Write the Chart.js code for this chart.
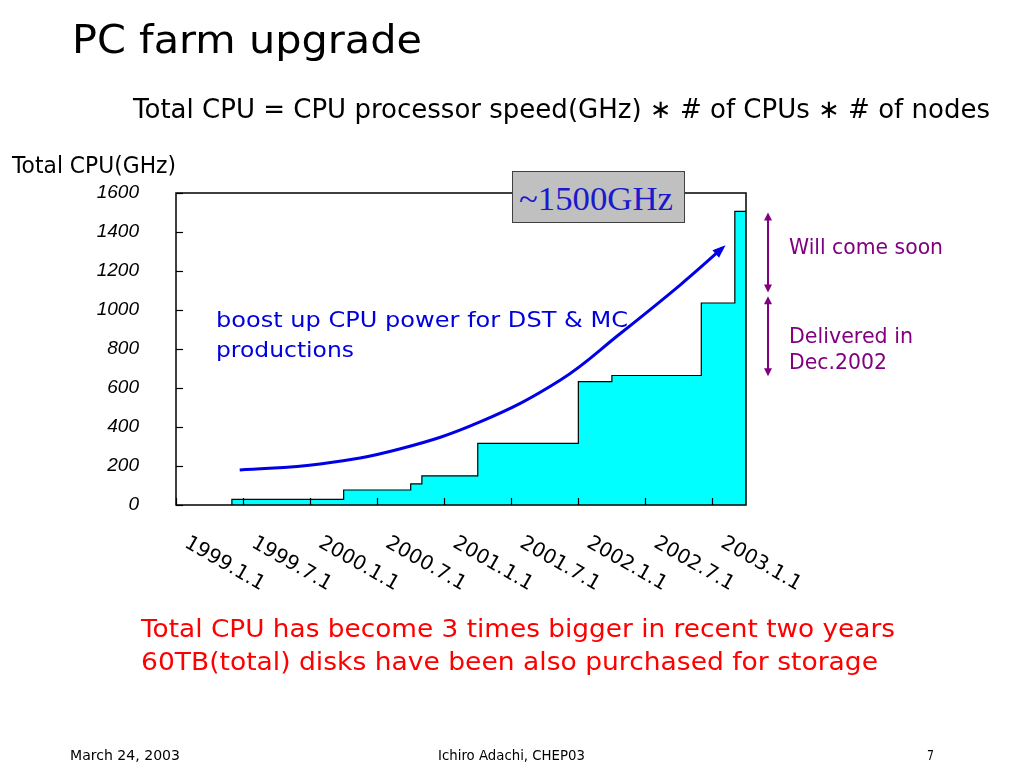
<!DOCTYPE html>
<html>
<head>
<meta charset="utf-8">
<script src="https://cdn.jsdelivr.net/npm/chart.js@4.4.1/dist/chart.umd.min.js"></script>
<style>
  html, body { margin:0; padding:0; background:#fff; }
  #wrap { position:relative; width:1024px; height:768px; overflow:hidden; background:#fff; }
  #c { position:absolute; left:0; top:0; }
  .t { position:absolute; white-space:nowrap; line-height:1; transform-origin:0 0; font-family:'DejaVu Sans', sans-serif; }
  #box { position:absolute; left:512px; top:171px; width:171px; height:50px; background:#c0c0c0; border:1px solid #404040; }
</style>
</head>
<body>
<div id="wrap">
  <canvas id="c" width="1024" height="768"></canvas>
  <div id="box"></div>
</div>
<script>
// ---- data (months since 1999.1.1) ----
const stepMonths  = [5, 15, 21, 22, 27, 36, 39, 47, 50];
const stepValues  = [29, 77, 108, 149, 316, 633, 664, 1036, 1506];
const endMonth    = 51;
const xTickMonths = [0, 6, 12, 18, 24, 30, 36, 42, 48];
const xTickLabels = ['1999.1.1','1999.7.1','2000.1.1','2000.7.1','2001.1.1','2001.7.1','2002.1.1','2002.7.1','2003.1.1'];
const yTickValues = [0, 200, 400, 600, 800, 1000, 1200, 1400, 1600];
const curveMonths = [5.7, 12.9, 20.0, 27.2, 34.4, 39.7, 45.1, 48.9];
const curveValues = [179, 210, 287, 426, 641, 877, 1128, 1318];
const rangeArrows = [[1500, 1090], [1070, 660]];

const stepPoints = [{x: stepMonths[0], y: 0}];
stepMonths.forEach((m, i) => stepPoints.push({x: m, y: stepValues[i]}));
stepPoints.push({x: endMonth, y: stepValues[stepValues.length - 1]});
const curvePoints = curveMonths.map((m, i) => ({x: m, y: curveValues[i]}));

const framePlugin = {
  id: 'frame',
  afterDatasetsDraw(chart) {
    const {ctx, chartArea: a, scales: {x, y}} = chart;
    ctx.save();
    // inward ticks
    ctx.strokeStyle = '#000'; ctx.lineWidth = 1.2;
    yTickValues.forEach(v => {
      const py = Math.round(y.getPixelForValue(v)) + 0.5;
      ctx.beginPath(); ctx.moveTo(a.left, py); ctx.lineTo(a.left + 7, py); ctx.stroke();
    });
    xTickMonths.forEach(m => {
      const px = Math.round(x.getPixelForValue(m)) + 0.5;
      ctx.beginPath(); ctx.moveTo(px, a.bottom); ctx.lineTo(px, a.bottom - 7); ctx.stroke();
    });
    // frame
    ctx.lineWidth = 1.5;
    ctx.strokeRect(a.left, a.top, a.right - a.left, a.bottom - a.top);
    // x labels rotated
    ctx.fillStyle = '#000';
    ctx.font = '20px "DejaVu Sans"';
    ctx.textAlign = 'left'; ctx.textBaseline = 'top';
    xTickMonths.forEach((m, i) => {
      const px = x.getPixelForValue(m);
      ctx.save();
      ctx.translate(px + 15, a.bottom + 28);
      ctx.rotate(30 * Math.PI / 180);
      ctx.fillText(xTickLabels[i], 0, 0);
      ctx.restore();
    });
    // arrow head on trend curve
    const meta = chart.getDatasetMeta(1);
    const pts = meta.data;
    const last = pts[pts.length - 1];
    const fromX = last.cp1x !== undefined ? last.cp1x : pts[pts.length - 2].x;
    const fromY = last.cp1y !== undefined ? last.cp1y : pts[pts.length - 2].y;
    const ang = Math.atan2(last.y - fromY, last.x - fromX);
    ctx.fillStyle = '#0000e6';
    ctx.beginPath();
    ctx.moveTo(last.x + 4 * Math.cos(ang), last.y + 4 * Math.sin(ang));
    ctx.lineTo(last.x - 9 * Math.cos(ang) + 5 * Math.sin(ang), last.y - 9 * Math.sin(ang) - 5 * Math.cos(ang));
    ctx.lineTo(last.x - 9 * Math.cos(ang) - 5 * Math.sin(ang), last.y - 9 * Math.sin(ang) + 5 * Math.cos(ang));
    ctx.closePath(); ctx.fill();
    // purple range arrows
    ctx.strokeStyle = '#800080'; ctx.fillStyle = '#800080'; ctx.lineWidth = 2;
    const ax = a.right + 22;
    rangeArrows.forEach(([v1, v2]) => {
      const y1 = y.getPixelForValue(v1), y2 = y.getPixelForValue(v2);
      ctx.beginPath(); ctx.moveTo(ax, y1 + 4); ctx.lineTo(ax, y2 - 4); ctx.stroke();
      ctx.beginPath(); ctx.moveTo(ax, y1); ctx.lineTo(ax - 4, y1 + 8); ctx.lineTo(ax + 4, y1 + 8); ctx.closePath(); ctx.fill();
      ctx.beginPath(); ctx.moveTo(ax, y2); ctx.lineTo(ax - 4, y2 - 8); ctx.lineTo(ax + 4, y2 - 8); ctx.closePath(); ctx.fill();
    });
    ctx.restore();
  }
};

new Chart(document.getElementById('c'), {
  type: 'line',
  data: {
    datasets: [
      { label: 'Total CPU', data: stepPoints, stepped: 'before', fill: 'origin',
        backgroundColor: '#00ffff', borderColor: '#000', borderWidth: 1.2, pointRadius: 0 },
      { label: 'trend', data: curvePoints, tension: 0.4, fill: false,
        borderColor: '#0000e6', borderWidth: 3, pointRadius: 0 }
    ]
  },
  options: {
    responsive: false, animation: false, devicePixelRatio: 1,
    layout: { padding: { left: 0, top: 193, right: 278, bottom: 0 } },
    plugins: { legend: { display: false }, tooltip: { enabled: false } },
    scales: {
      x: { type: 'linear', min: 0, max: endMonth, ticks: { display: false },
           grid: { display: false }, border: { display: false },
           afterFit(s) { s.height = 263; } },
      y: { min: 0, max: 1600, ticks: { stepSize: 200, color: '#000', padding: 29,
             callback: v => String(v),
             font: { family: 'Liberation Sans', style: 'italic', size: 19 } },
           grid: { display: false }, border: { display: false },
           afterFit(s) { s.width = 176; } }
    }
  },
  plugins: [framePlugin]
});

// ---- slide texts ----
const texts = [
  {t:'PC farm upgrade', x:72, b:53, fs:39, w:350, c:'#000'},
  {t:'Total CPU = CPU processor speed(GHz) \u2217 # of CPUs \u2217 # of nodes', x:133, b:118, fs:26, w:857, c:'#000'},
  {t:'Total CPU(GHz)', x:12, b:173, fs:23, w:164, c:'#000'},
  {t:'~1500GHz', x:519, b:211, fs:34, w:154, c:'#1a1acc', f:'"Liberation Serif", serif'},
  {t:'boost up CPU power for DST & MC', x:216, b:328, fs:22, w:412, c:'#0000dd'},
  {t:'productions', x:216, b:358, fs:22, w:138, c:'#0000dd'},
  {t:'Will come soon', x:789, b:255, fs:21, w:154, c:'#800080'},
  {t:'Delivered in', x:789, b:344, fs:21, w:124, c:'#800080'},
  {t:'Dec.2002', x:789, b:370, fs:21, w:98, c:'#800080'},
  {t:'Total CPU has become 3 times bigger in recent two years', x:141, b:637, fs:25, w:754, c:'#ff0000'},
  {t:'60TB(total) disks have been also purchased for storage', x:141, b:670, fs:25, w:737, c:'#ff0000'},
  {t:'March 24, 2003', x:70, b:760, fs:14, w:110, c:'#000'},
  {t:'Ichiro Adachi, CHEP03', x:438, b:760, fs:14, w:147, c:'#000'},
  {t:'7', x:927, b:760, fs:14, w:7, c:'#000'}
];
const wrap = document.getElementById('wrap');
texts.forEach(o => {
  const s = document.createElement('div');
  s.className = 't';
  s.textContent = o.t;
  s.style.fontSize = o.fs + 'px';
  s.style.color = o.c;
  if (o.f) s.style.fontFamily = o.f;
  s.style.left = o.x + 'px';
  s.style.top = (o.b - 0.845 * o.fs) + 'px';
  wrap.appendChild(s);
  const w = s.getBoundingClientRect().width;
  if (w > 0) s.style.transform = 'scaleX(' + (o.w / w) + ')';
});
</script>
</body>
</html>
